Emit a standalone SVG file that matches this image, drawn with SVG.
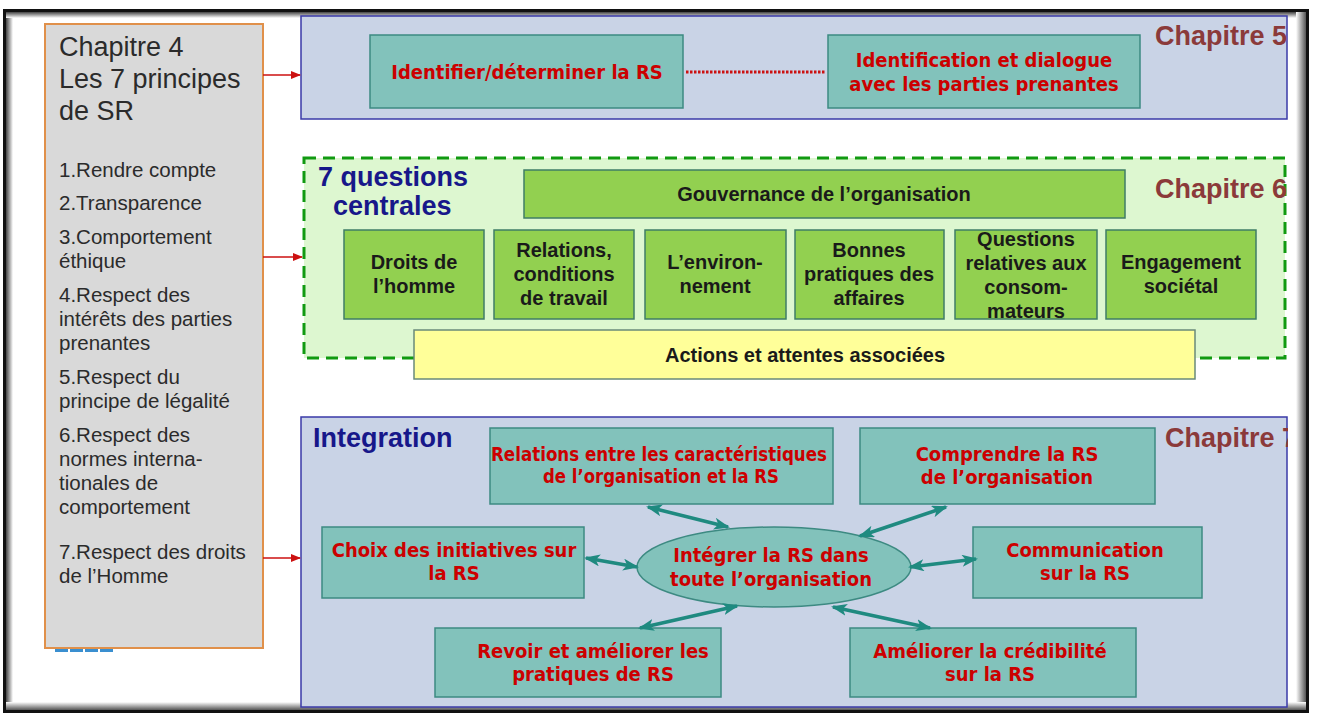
<svg xmlns="http://www.w3.org/2000/svg" width="1317" height="715" viewBox="0 0 1317 715">
<style>
.lp{font-family:"Liberation Sans",Arial,sans-serif;fill:#2b2b2b}
.big{font-size:27px}
.it{font-size:20.5px}
.panel{fill:#c9d3e6;stroke:#3a3aa8;stroke-width:1.5}
.teal{fill:#82c2bb;stroke:#3d8a82;stroke-width:1.5}
.grn{fill:#92d050;stroke:#3f7d66;stroke-width:1.5}
.rt{font-family:"DejaVu Sans Condensed","Liberation Sans",sans-serif;font-weight:bold;fill:#cc0000;text-anchor:middle;font-size:20px}
.bt{font-family:"Liberation Sans",Arial,sans-serif;font-weight:bold;fill:#1a1a1a;text-anchor:middle;font-size:20px}
.chap{font-family:"Liberation Sans",Arial,sans-serif;font-weight:bold;fill:#8b3a3a;font-size:27px}
.ttl{font-family:"Liberation Sans",Arial,sans-serif;font-weight:bold;fill:#17178a;font-size:27px}
.red{stroke:#cc1111;stroke-width:1.5;fill:none}
.tl{stroke:#1f8a80;stroke-width:3.5;fill:none}
</style>
<defs>
<marker id="ra" markerWidth="10" markerHeight="8" refX="9" refY="4" orient="auto" markerUnits="userSpaceOnUse"><path d="M0,0 L10,4 L0,8 z" fill="#cc1111"/></marker>
<marker id="ta" markerWidth="16" markerHeight="12" refX="14" refY="6" orient="auto-start-reverse" markerUnits="userSpaceOnUse"><path d="M0,0 L16,6 L0,12 L4,6 z" fill="#1f8a80"/></marker>
<linearGradient id="gl" x1="0" x2="1" y1="0" y2="0"><stop offset="0" stop-color="#444"/><stop offset="1" stop-color="#fff"/></linearGradient>
<linearGradient id="gr" x1="0" x2="1" y1="0" y2="0"><stop offset="0" stop-color="#fff"/><stop offset="1" stop-color="#555"/></linearGradient>
<linearGradient id="gt" x1="0" x2="0" y1="0" y2="1"><stop offset="0" stop-color="#444"/><stop offset="1" stop-color="#fff"/></linearGradient>
<linearGradient id="gb" x1="0" x2="0" y1="0" y2="1"><stop offset="0" stop-color="#fff"/><stop offset="1" stop-color="#555"/></linearGradient>
<clipPath id="clipR"><rect x="0" y="0" width="1288" height="715"/></clipPath>
</defs>
<rect width="1317" height="715" fill="#fff"/>
<g id="frame">
<rect x="6" y="12" width="7" height="698" fill="url(#gl)"/>
<rect x="6" y="12" width="1300" height="6" fill="url(#gt)"/>
<rect x="1296" y="12" width="10" height="698" fill="url(#gr)"/>
<rect x="6" y="702" width="1300" height="8" fill="url(#gb)"/>
<rect x="4.5" y="10.5" width="1303" height="701" fill="none" stroke="#111" stroke-width="3"/>
</g>
<g id="chap4">
<line x1="55" y1="650" x2="115" y2="650" stroke="#3a8fd0" stroke-width="4" stroke-dasharray="13 2"/>
<rect x="45" y="24" width="218" height="624" fill="#d9d9d9" stroke="#e0904a" stroke-width="2"/>
<text class="lp big" x="59" y="56">Chapitre 4</text>
<text class="lp big" x="59" y="88">Les 7 principes</text>
<text class="lp big" x="59" y="120">de SR</text>
<text class="lp it" x="59" y="177">1.Rendre compte</text>
<text class="lp it" x="59" y="210">2.Transparence</text>
<text class="lp it" x="59" y="244">3.Comportement</text>
<text class="lp it" x="59" y="268">éthique</text>
<text class="lp it" x="59" y="302">4.Respect des</text>
<text class="lp it" x="59" y="326">intérêts des parties</text>
<text class="lp it" x="59" y="350">prenantes</text>
<text class="lp it" x="59" y="384">5.Respect du</text>
<text class="lp it" x="59" y="408">principe de légalité</text>
<text class="lp it" x="59" y="442">6.Respect des</text>
<text class="lp it" x="59" y="466">normes interna-</text>
<text class="lp it" x="59" y="490">tionales de</text>
<text class="lp it" x="59" y="514">comportement</text>
<text class="lp it" x="59" y="559">7.Respect des droits</text>
<text class="lp it" x="59" y="583">de l’Homme</text>
</g>
<g id="chap5">
<rect class="panel" x="301" y="16" width="986" height="103"/>
<text class="chap" x="1155" y="45" clip-path="url(#clipR)">Chapitre 5</text>
<g id="n-identifier"><rect class="teal" x="370" y="35" width="313" height="73"/>
<text class="rt" x="527" y="79" font-size="20.5">Identifier/déterminer la RS</text></g>
<g id="n-dialogue"><rect class="teal" x="828" y="35" width="312" height="73"/>
<text class="rt" x="984" y="67">Identification et dialogue</text>
<text class="rt" x="984" y="91">avec les parties prenantes</text></g>
</g>
<g id="chap6">
<rect x="304" y="158" width="981" height="200" fill="#ddf7d0" stroke="#119a11" stroke-width="3" stroke-dasharray="12 7"/>
<text class="ttl" x="318" y="186">7 questions</text>
<text class="ttl" x="333" y="215">centrales</text>
<text class="chap" x="1155" y="198" clip-path="url(#clipR)">Chapitre 6</text>
<g id="n-gouv"><rect class="grn" x="524" y="170" width="601" height="48"/>
<text class="bt" x="824" y="201">Gouvernance de l’organisation</text></g>
<g id="n-droits"><rect class="grn" x="344" y="230" width="140" height="89"/>
<text class="bt" x="414" y="269">Droits de</text><text class="bt" x="414" y="293">l’homme</text></g>
<g id="n-relations"><rect class="grn" x="494" y="230" width="140" height="89"/>
<text class="bt" x="564" y="257">Relations,</text><text class="bt" x="564" y="281">conditions</text><text class="bt" x="564" y="305">de travail</text></g>
<g id="n-env"><rect class="grn" x="645" y="230" width="141" height="89"/>
<text class="bt" x="715" y="269">L’environ-</text><text class="bt" x="715" y="293">nement</text></g>
<g id="n-bonnes"><rect class="grn" x="795" y="230" width="149" height="89"/>
<text class="bt" x="869" y="257">Bonnes</text><text class="bt" x="869" y="281">pratiques des</text><text class="bt" x="869" y="305">affaires</text></g>
<g id="n-questions"><rect class="grn" x="955" y="230" width="142" height="89"/>
<text class="bt" x="1026" y="246">Questions</text><text class="bt" x="1026" y="270">relatives aux</text><text class="bt" x="1026" y="294">consom-</text><text class="bt" x="1026" y="318">mateurs</text></g>
<g id="n-engagement"><rect class="grn" x="1106" y="230" width="150" height="89"/>
<text class="bt" x="1181" y="269">Engagement</text><text class="bt" x="1181" y="293">sociétal</text></g>
<g id="n-actions"><rect x="414" y="330" width="781" height="49" fill="#ffff99" stroke="#6a8a7a" stroke-width="1.5"/>
<text class="bt" x="805" y="362">Actions et attentes associées</text></g>
</g>
<g id="chap7">
<rect class="panel" x="301" y="417" width="986" height="290"/>
<text class="ttl" x="313" y="447">Integration</text>
<text class="chap" x="1165" y="447" clip-path="url(#clipR)">Chapitre 7</text>
<g id="n-rel"><rect class="teal" x="490" y="428" width="343" height="76"/>
<text class="rt" x="659" y="461" font-size="19" textLength="336" lengthAdjust="spacingAndGlyphs">Relations entre les caractéristiques</text>
<text class="rt" x="661" y="483" font-size="19" textLength="236" lengthAdjust="spacingAndGlyphs">de l’organisation et la RS</text></g>
<g id="n-comp"><rect class="teal" x="860" y="428" width="295" height="76"/>
<text class="rt" x="1007" y="461">Comprendre la RS</text>
<text class="rt" x="1007" y="484">de l’organisation</text></g>
<g id="n-choix"><rect class="teal" x="322" y="527" width="262" height="71"/>
<text class="rt" x="454" y="557">Choix des initiatives sur</text>
<text class="rt" x="454" y="580">la RS</text></g>
<g id="n-integrer"><ellipse cx="774" cy="567" rx="137" ry="40" fill="#82c2bb" stroke="#3d8a82" stroke-width="1.5"/>
<text class="rt" x="771" y="562">Intégrer la RS dans</text>
<text class="rt" x="771" y="586">toute l’organisation</text></g>
<g id="n-comm"><rect class="teal" x="973" y="527" width="229" height="71"/>
<text class="rt" x="1085" y="557">Communication</text>
<text class="rt" x="1085" y="580">sur la RS</text></g>
<g id="n-revoir"><rect class="teal" x="435" y="628" width="286" height="69"/>
<text class="rt" x="593" y="658">Revoir et améliorer les</text>
<text class="rt" x="593" y="681">pratiques de RS</text></g>
<g id="n-ameliorer"><rect class="teal" x="850" y="628" width="286" height="69"/>
<text class="rt" x="990" y="658">Améliorer la crédibilité</text>
<text class="rt" x="990" y="681">sur la RS</text></g>
</g>
<g id="connectors">
<line class="red" x1="263" y1="75" x2="300" y2="75" marker-end="url(#ra)"/>
<line class="red" x1="263" y1="257" x2="302" y2="257" marker-end="url(#ra)"/>
<line class="red" x1="263" y1="558" x2="300" y2="558" marker-end="url(#ra)"/>
<line x1="686" y1="72" x2="826" y2="72" stroke="#cc1111" stroke-width="3" stroke-dasharray="2.5 1.5"/>
<line class="tl" x1="648" y1="507" x2="728" y2="527" marker-start="url(#ta)" marker-end="url(#ta)"/>
<line class="tl" x1="946" y1="507" x2="860" y2="536" marker-start="url(#ta)" marker-end="url(#ta)"/>
<line class="tl" x1="586" y1="558" x2="637" y2="567" marker-start="url(#ta)" marker-end="url(#ta)"/>
<line class="tl" x1="910" y1="567" x2="976" y2="559" marker-start="url(#ta)" marker-end="url(#ta)"/>
<line class="tl" x1="640" y1="628" x2="737" y2="606" marker-start="url(#ta)" marker-end="url(#ta)"/>
<line class="tl" x1="833" y1="607" x2="930" y2="628" marker-start="url(#ta)" marker-end="url(#ta)"/>
</g>
</svg>
